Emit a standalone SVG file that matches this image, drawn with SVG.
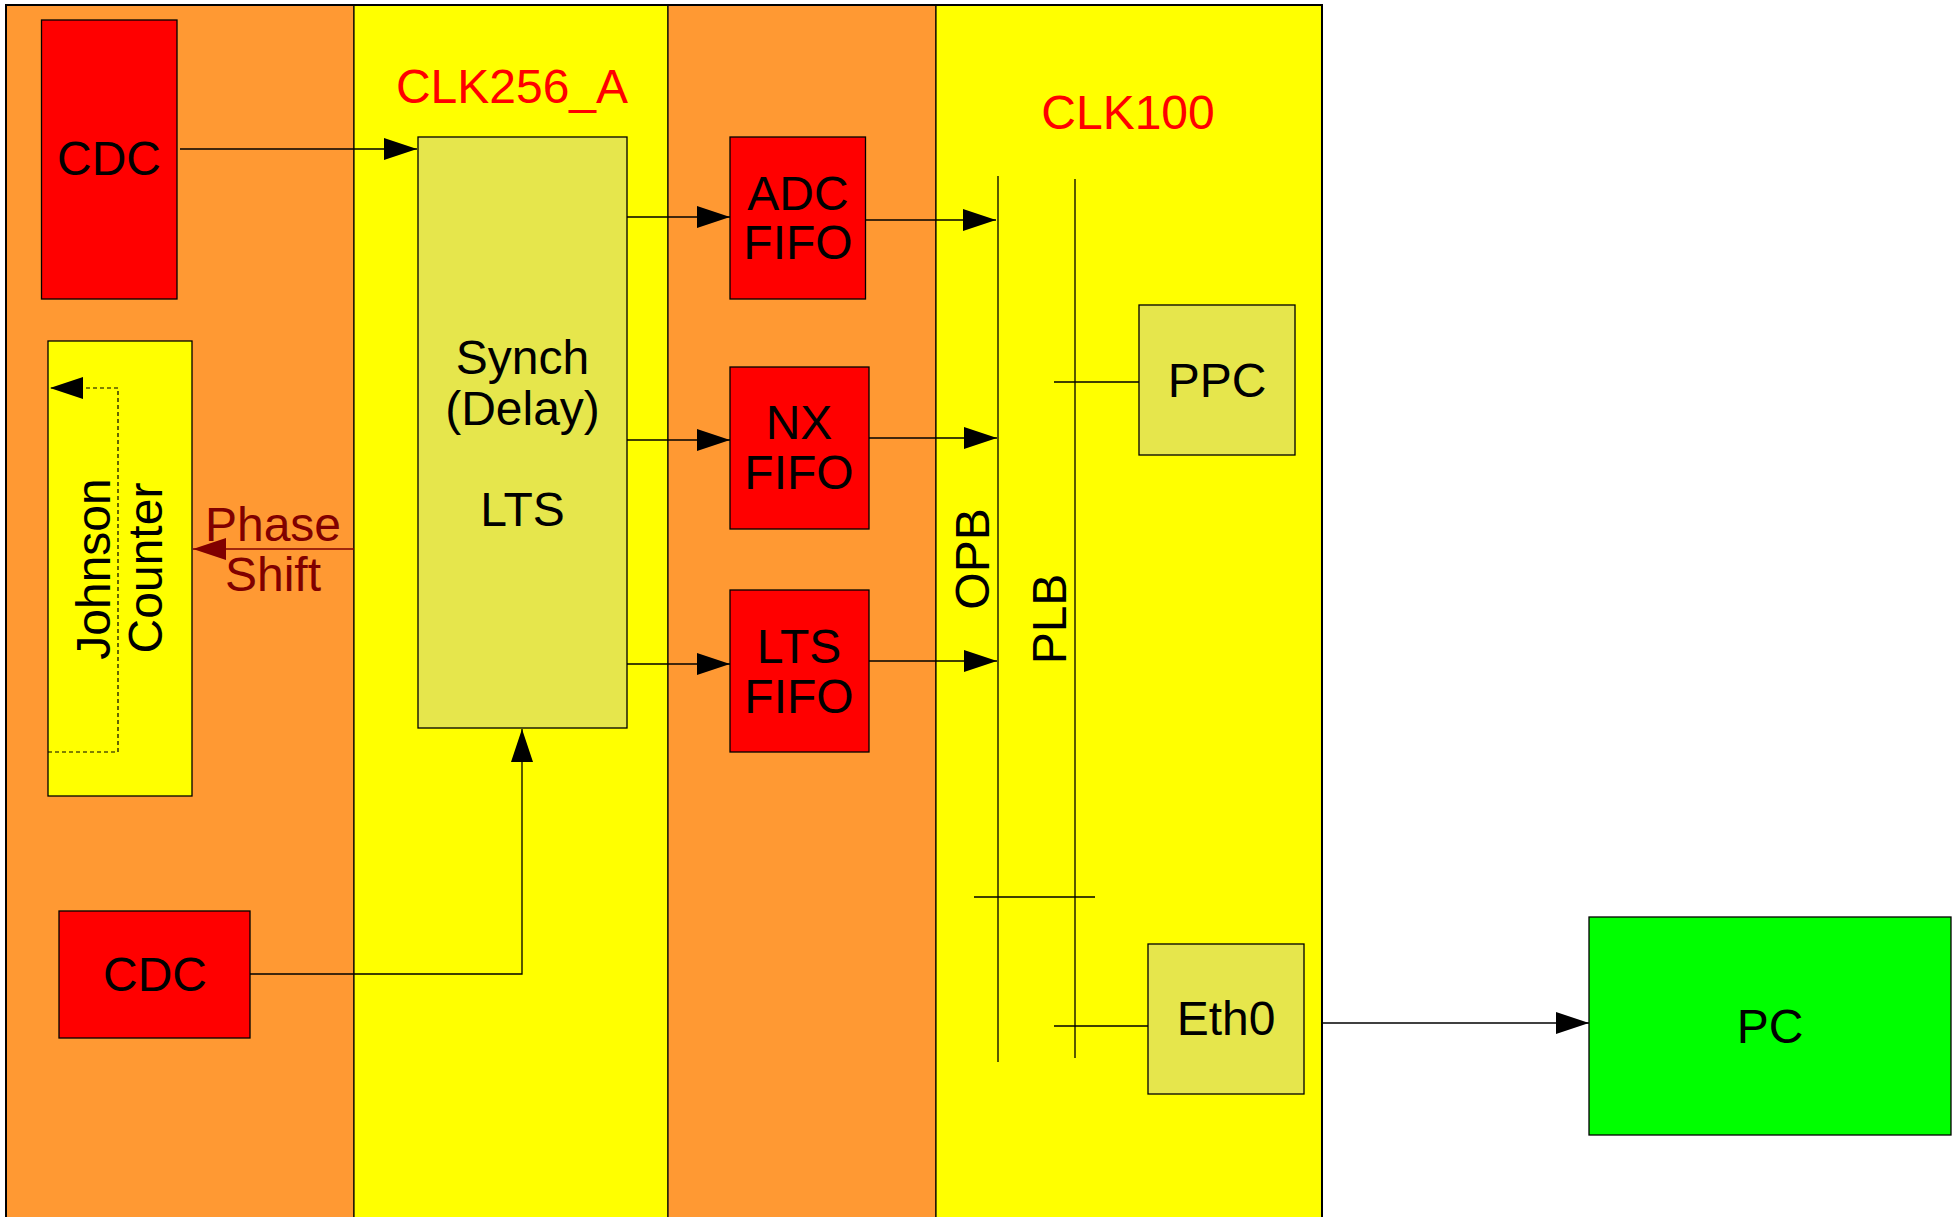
<svg xmlns="http://www.w3.org/2000/svg" width="1958" height="1217" viewBox="0 0 1958 1217">
<defs>
<style>
text{font-family:"Liberation Sans",Arial,sans-serif;font-size:48px;fill:#000;text-anchor:middle}
.clk{fill:#ff0000;font-size:48px}
.ps{fill:#800000;font-size:48px}
.col{stroke:#000;stroke-width:1.2}
.orange{fill:#ff9933}
.yellow{fill:#ffff00}
.red{fill:#ff0000;stroke:#000;stroke-width:1.3}
.khaki{fill:#e6e64c;stroke:#000;stroke-width:1.3}
.jc{fill:#ffff00;stroke:#000;stroke-width:1.3}
.green{fill:#00ff00;stroke:#000;stroke-width:1.3}
.ln{fill:none;stroke:#000;stroke-width:1.3}
.arr{fill:none;stroke:#000;stroke-width:1.3;marker-end:url(#ah)}
.dash{fill:none;stroke:#000;stroke-width:1.2;stroke-dasharray:4,3;marker-end:url(#ah)}
.darr{fill:none;stroke:#800000;stroke-width:1.3;marker-end:url(#ahd)}
</style>
<marker id="ah" markerUnits="userSpaceOnUse" markerWidth="34" markerHeight="24" refX="33" refY="11" orient="auto">
<path d="M0,0 L33,11 L0,22 z" fill="#000"/>
</marker>
<marker id="ahd" markerUnits="userSpaceOnUse" markerWidth="34" markerHeight="24" refX="33" refY="11" orient="auto">
<path d="M0,0 L33,11 L0,22 z" fill="#800000"/>
</marker>
</defs>
<rect width="1958" height="1217" fill="#ffffff"/>
<g id="columns">
<rect class="orange col" x="6" y="5" width="348" height="1220"/>
<rect class="yellow col" x="354" y="5" width="314" height="1220"/>
<rect class="orange col" x="668" y="5" width="268" height="1220"/>
<rect class="yellow col" x="936" y="5" width="386" height="1220"/>
<rect x="6" y="5" width="1316" height="1220" fill="none" stroke="#000" stroke-width="2"/>
</g>
<text class="clk" x="512" y="103">CLK256_A</text>
<text class="clk" x="1128" y="129">CLK100</text>
<g id="connectors">
<path class="arr" d="M180,149 H417"/>
<path class="arr" d="M627,217 H730"/>
<path class="arr" d="M627,440 H730"/>
<path class="arr" d="M627,664 H730"/>
<path class="arr" d="M866,220 H996"/>
<path class="arr" d="M869,438 H997"/>
<path class="arr" d="M869,661 H997"/>
<path class="arr" d="M250,974 H522 V729"/>
<path class="darr" d="M354,549 H193"/>
<path class="arr" d="M1322,1023 H1589"/>
<path class="ln" d="M1054,382 H1139"/>
<path class="ln" d="M1054,1026 H1148"/>
<path class="ln" d="M974,897 H1095"/>
<path class="ln" d="M998,176 V1062"/>
<path class="ln" d="M1075,179 V1058"/>
</g>
<g id="cdc-top">
<rect class="red" x="41.5" y="20" width="135.5" height="279"/>
<text x="109" y="175">CDC</text>
</g>
<g id="johnson">
<rect class="jc" x="48" y="341" width="144" height="455"/>
<path class="dash" d="M48,752 H118 V388 H50"/>
<text transform="translate(110,569) rotate(-90)">Johnson</text>
<text transform="translate(161.5,568) rotate(-90)">Counter</text>
</g>
<g id="phase-shift">
<text class="ps" x="273" y="541">Phase</text>
<text class="ps" x="273" y="591">Shift</text>
</g>
<g id="cdc-bottom">
<rect class="red" x="59" y="911" width="191" height="127"/>
<text x="155" y="991">CDC</text>
</g>
<g id="synch">
<rect class="khaki" x="418" y="137" width="209" height="591"/>
<text x="522.5" y="374">Synch</text>
<text x="522.5" y="425">(Delay)</text>
<text x="522.5" y="526">LTS</text>
</g>
<g id="adc-fifo">
<rect class="red" x="730" y="137" width="135.5" height="162"/>
<text x="798" y="210">ADC</text>
<text x="798" y="259">FIFO</text>
</g>
<g id="nx-fifo">
<rect class="red" x="730" y="367" width="139" height="162"/>
<text x="799" y="439">NX</text>
<text x="799" y="489">FIFO</text>
</g>
<g id="lts-fifo">
<rect class="red" x="730" y="590" width="139" height="162"/>
<text x="799" y="663">LTS</text>
<text x="799" y="713">FIFO</text>
</g>
<g id="opb">
<text transform="translate(989,559) rotate(-90)">OPB</text>
</g>
<g id="plb">
<text transform="translate(1066,619) rotate(-90)">PLB</text>
</g>
<g id="ppc">
<rect class="khaki" x="1139" y="305" width="156" height="150"/>
<text x="1217" y="397">PPC</text>
</g>
<g id="eth0">
<rect class="khaki" x="1148" y="944" width="156" height="150"/>
<text x="1226" y="1035">Eth0</text>
</g>
<g id="pc">
<rect class="green" x="1589" y="917" width="362" height="218"/>
<text x="1770" y="1043">PC</text>
</g>
</svg>
